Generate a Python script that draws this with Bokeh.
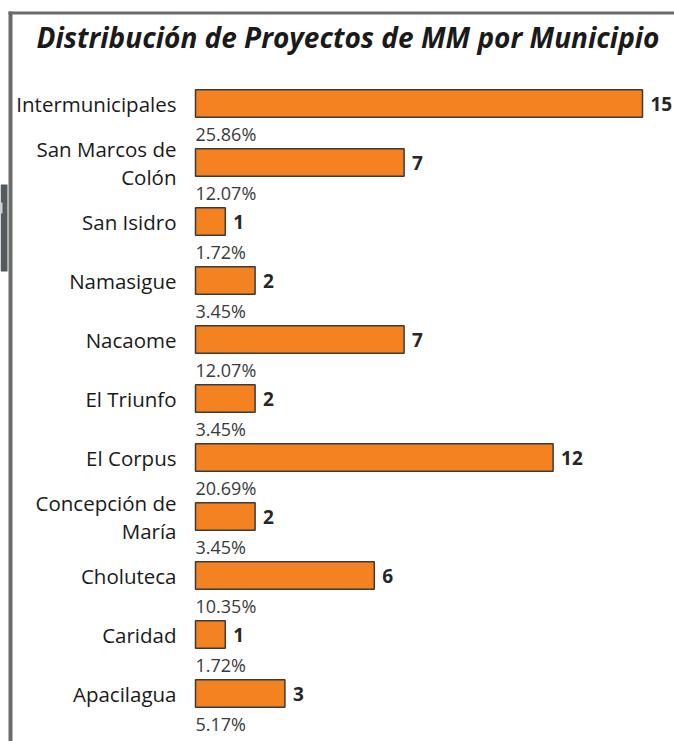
from bokeh.plotting import figure
from bokeh.models import Range1d, ColumnDataSource, Label, BoxAnnotation
from bokeh.core.properties import value
from bokeh.embed import file_html
from bokeh.resources import INLINE

titulo = "Distribución de Proyectos de MM por Municipio"
municipios = ["Intermunicipales", "San Marcos de\nColón", "San Isidro", "Namasigue",
              "Nacaome", "El Triunfo", "El Corpus", "Concepción de\nMaría",
              "Choluteca", "Caridad", "Apacilagua"]
proyectos = [15, 7, 1, 2, 7, 2, 12, 2, 6, 1, 3]
porcentajes = ["25.86%", "12.07%", "1.72%", "3.45%", "12.07%", "3.45%",
               "20.69%", "3.45%", "10.35%", "1.72%", "5.17%"]

FONT = "Open Sans"
W, H = 674, 741
PX_X = 29.8      # pixels per project
ZERO_X = 195     # pixel position of zero
PX_Y = 59        # pixels per category
PAD_B = 48       # bottom padding (px)

n = len(municipios)
pos = [n - 1 - i for i in range(n)]

src = ColumnDataSource(dict(
    pos=pos, val=proyectos, lab=municipios, pct=porcentajes,
    vlab=[str(v) for v in proyectos], zero=[0] * n))

p = figure(width=W, height=H,
           x_range=Range1d(-ZERO_X / PX_X, (W - ZERO_X) / PX_X),
           y_range=Range1d(-PAD_B / PX_Y, (H - PAD_B) / PX_Y),
           output_backend="svg", toolbar_location=None, min_border=0,
           outline_line_color=None, background_fill_color="white",
           border_fill_color="white")
p.axis.visible = False
p.grid.visible = False

p.hbar(y="pos", left="zero", right="val", height=0.466, source=src,
       fill_color="#F58220", line_color="#3a3a3a", line_width=1.5)

# category labels
p.text(x="zero", y="pos", text="lab", source=src, x_offset=-19,
       text_align="right", text_baseline="middle", text_font=value(FONT),
       text_font_size="20.5px", text_color="#1a1a1a", text_line_height=1.0)

# value labels
p.text(x="val", y="pos", text="vlab", source=src, x_offset=8,
       text_align="left", text_baseline="middle", text_font=value(FONT),
       text_font_size="19px", text_font_style="bold", text_color="#262626")

# percentage labels
p.text(x="zero", y="pos", text="pct", source=src, x_offset=0, y_offset=30,
       text_align="left", text_baseline="middle", text_font=value(FONT),
       text_font_size="18px", text_color="#3a3a3a")

# frame lines
p.add_layout(BoxAnnotation(left=8, right=12, bottom=0, top=H - 11,
                           left_units="screen", right_units="screen",
                           bottom_units="screen", top_units="screen",
                           fill_color="#6b6b6b", fill_alpha=1, line_color=None))
p.add_layout(BoxAnnotation(left=8, right=W, bottom=H - 14, top=H - 11,
                           left_units="screen", right_units="screen",
                           bottom_units="screen", top_units="screen",
                           fill_color="#6b6b6b", fill_alpha=1, line_color=None))
# dark tab at left edge
p.add_layout(BoxAnnotation(left=0, right=7, bottom=H - 271, top=H - 184,
                           left_units="screen", right_units="screen",
                           bottom_units="screen", top_units="screen",
                           fill_color="#555a5e", fill_alpha=1, line_color=None))
p.add_layout(BoxAnnotation(left=0, right=2, bottom=H - 213, top=H - 202,
                           left_units="screen", right_units="screen",
                           bottom_units="screen", top_units="screen",
                           fill_color="#d0d0d0", fill_alpha=1, line_color=None))

p.add_layout(Label(x=347.5, y=H - 36, x_units="screen", y_units="screen",
                   text=titulo, text_align="center", text_baseline="middle",
                   text_font=FONT, text_font_size="28px",
                   text_font_style="bold italic", text_color="#1a1a1a"))

open("out.html", "w").write(file_html(p, INLINE))
